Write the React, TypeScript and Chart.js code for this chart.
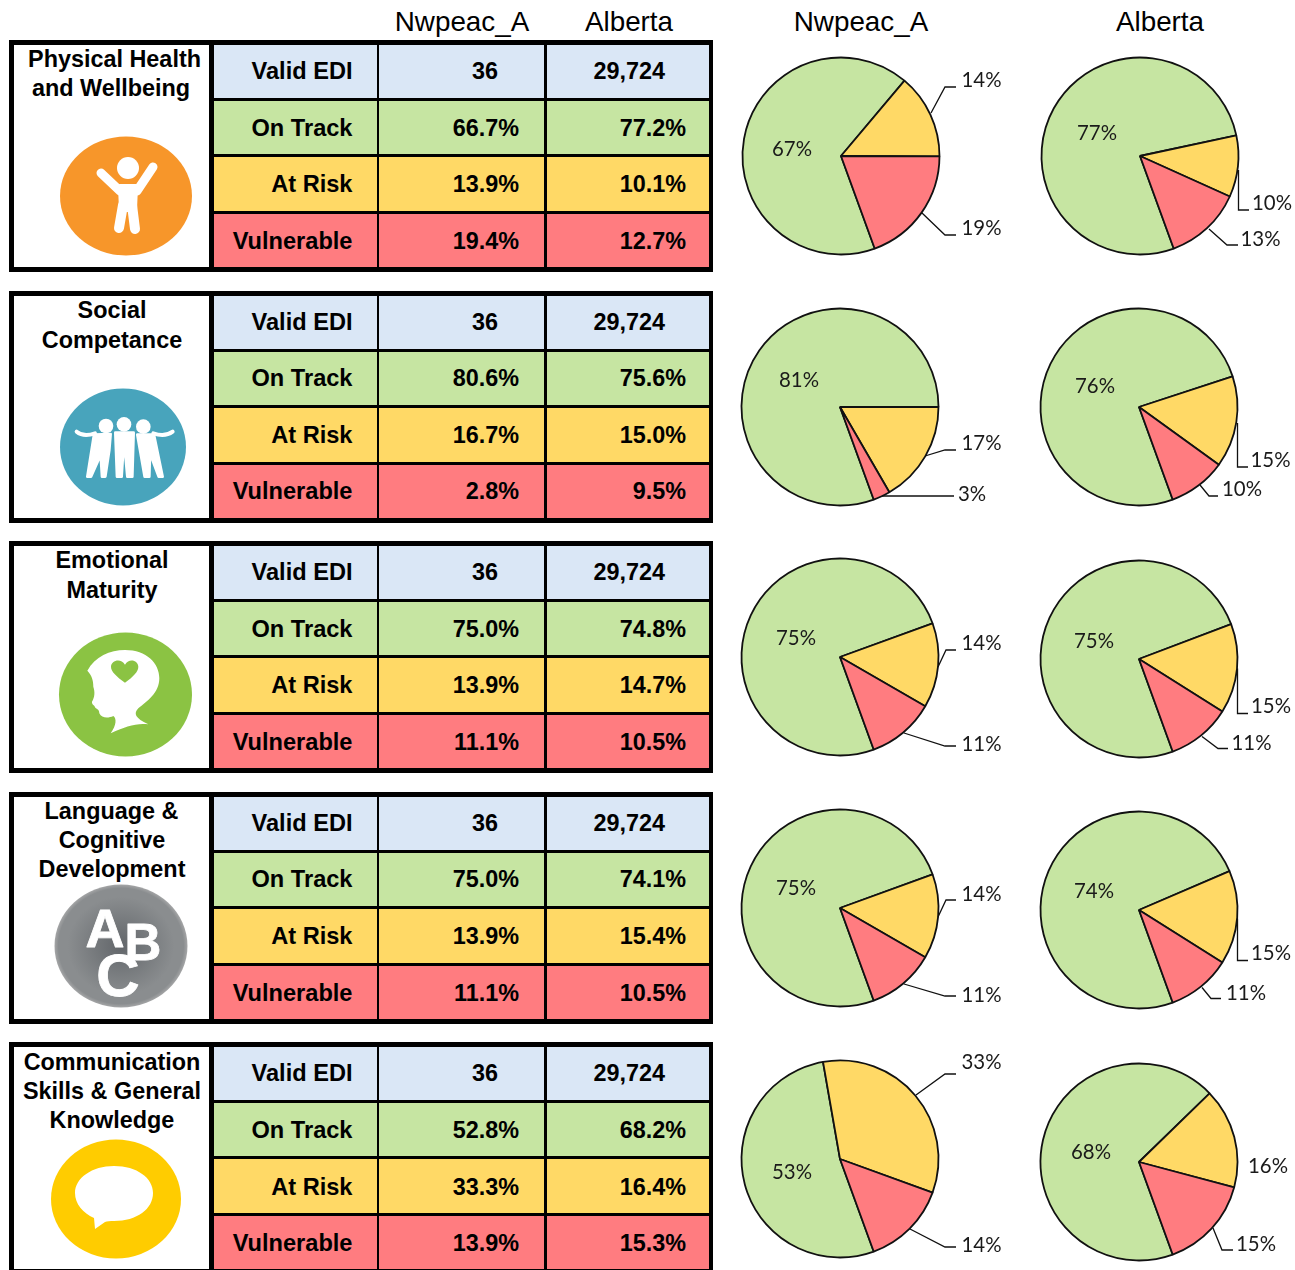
import React, { useEffect, useRef } from "react";
import { Chart, registerables } from "chart.js";

Chart.register(...registerables);

const domains = [
  ["Physical Health", "and Wellbeing"],
  ["Social", "Competance"],
  ["Emotional", "Maturity"],
  ["Language &", "Cognitive", "Development"],
  ["Communication", "Skills & General", "Knowledge"],
];
const indicators = ["Valid EDI", "On Track", "At Risk", "Vulnerable"];
const regions = ["Nwpeac_A", "Alberta"];
const validCounts = ["36", "29,724"];
const nwpeacOnTrack = [66.7, 80.6, 75.0, 75.0, 52.8];
const nwpeacAtRisk = [13.9, 16.7, 13.9, 13.9, 33.3];
const nwpeacVulnerable = [19.4, 2.8, 11.1, 11.1, 13.9];
const albertaOnTrack = [77.2, 75.6, 74.8, 74.1, 68.2];
const albertaAtRisk = [10.1, 15.0, 14.7, 15.4, 16.4];
const albertaVulnerable = [12.7, 9.5, 10.5, 10.5, 15.3];

const GREEN = "#C6E5A2";
const YELLOW = "#FFD966";
const RED = "#FF7C80";
const BLUE = "#DAE7F6";
const rowFills = [BLUE, GREEN, YELLOW, RED];
const sliceFills = [GREEN, YELLOW, RED];

const blockTops = [40, 291, 541, 792, 1042];
const rowCentres = [
  [71, 128, 184, 241],
  [322, 378, 435, 491],
  [572, 629, 685, 742],
  [823, 879, 936, 993],
  [1073, 1130, 1187, 1243],
];
const titleCentres = [
  [59, 88],
  [310, 340],
  [560, 590],
  [811, 840, 869],
  [1062, 1091, 1120],
];
const titleXs = [
  [114.5, 111],
  [112, 112],
  [112, 112],
  [111.5, 112, 112],
  [112, 112, 112],
];

type Pt = [number, number];
type PieLayout = { cx: number; cy: number; labels: Pt[]; leaders: (Pt[] | null)[] };

const nwpeacLayouts: PieLayout[] = [
  { cx: 841, cy: 156, labels: [[792, 148], [961.5, 79.5], [961.5, 227.5]],
    leaders: [null, [[931, 113], [945, 87], [956, 87]], [[922, 213], [945, 235], [956, 235]]] },
  { cx: 840, cy: 407, labels: [[799, 379.5], [961.5, 442.5], [958, 493.5]],
    leaders: [null, [[925, 456], [945, 450], [956, 450]], [[882, 496], [954, 496]]] },
  { cx: 840, cy: 657, labels: [[796, 637.5], [961.5, 642.5], [961.5, 743.5]],
    leaders: [null, [[938, 667], [946, 650], [956, 650]], [[904, 733], [945, 746], [956, 746]]] },
  { cx: 840, cy: 908, labels: [[796, 887.5], [961.5, 893.5], [961.5, 994.5]],
    leaders: [null, [[938, 917], [946, 900], [956, 900]], [[904, 984], [945, 996], [956, 996]]] },
  { cx: 840, cy: 1159, labels: [[792, 1171.5], [961.5, 1061.5], [961.5, 1244.5]],
    leaders: [null, [[916, 1095], [945, 1074], [956, 1074]], [[910, 1229], [945, 1247], [956, 1247]]] },
];
const albertaLayouts: PieLayout[] = [
  { cx: 1140, cy: 156, labels: [[1097, 132.5], [1252, 202.5], [1240.5, 238.5]],
    leaders: [null, [[1238.5, 170], [1238.5, 210], [1249, 210]], [[1209, 229], [1227, 245], [1238, 245]]] },
  { cx: 1139, cy: 407, labels: [[1095, 385.5], [1250.5, 459.5], [1222, 488.5]],
    leaders: [null, [[1237.5, 423], [1237.5, 467], [1248, 467]], [[1200, 485], [1209, 496], [1218, 496]]] },
  { cx: 1139, cy: 658.5, labels: [[1094, 639.5], [1251, 704.5], [1231.5, 741.5]],
    leaders: [null, [[1237.5, 668], [1237.5, 713], [1248, 713]], [[1202, 736], [1218, 748], [1228, 748]]] },
  { cx: 1139, cy: 909.5, labels: [[1094, 889.5], [1251, 952], [1226, 991.5]],
    leaders: [null, [[1237.5, 918], [1237.5, 960], [1248, 960]], [[1202, 987], [1211, 998], [1221, 998]]] },
  { cx: 1139, cy: 1162, labels: [[1091, 1151.5], [1248, 1165.5], [1236, 1243.5]],
    leaders: [null, null, [[1213, 1228], [1222, 1250], [1233, 1250]]] },
];

const SIDE = 220;
const PIE_FONT = '20.4px Lato, "Open Sans", sans-serif';

function Pie({ values, layout, width }: { values: number[]; layout: PieLayout; width: number }) {
  const ref = useRef<HTMLCanvasElement>(null);
  useEffect(() => {
    const ox = layout.cx - SIDE / 2;
    const oy = layout.cy - SIDE / 2;
    const labelPlugin = {
      id: "pieLabels",
      afterDraw(chart: any) {
        const ctx = chart.ctx;
        ctx.save();
        ctx.strokeStyle = "#111";
        ctx.lineWidth = 1.3;
        ctx.fillStyle = "#1a1a1a";
        ctx.font = PIE_FONT;
        ctx.textBaseline = "middle";
        values.forEach((v, i) => {
          const leader = layout.leaders[i];
          if (leader) {
            ctx.beginPath();
            leader.forEach(([x, y], k) => {
              if (k === 0) ctx.moveTo(x - ox, y - oy);
              else ctx.lineTo(x - ox, y - oy);
            });
            ctx.stroke();
          }
          const [lx, ly] = layout.labels[i];
          ctx.textAlign = i === 0 ? "center" : "left";
          ctx.fillText(`${Math.round(v)}%`, lx - ox, ly - oy + 1);
        });
        ctx.restore();
      },
    };
    const chart = new Chart(ref.current!, {
      type: "pie",
      data: {
        labels: indicators.slice(1),
        datasets: [
          {
            data: values,
            backgroundColor: sliceFills,
            borderColor: "#111",
            borderWidth: 1.8,
          },
        ],
      },
      options: {
        animation: false,
        responsive: false,
        rotation: 160,
        radius: 98.5,
        layout: { padding: { right: width - SIDE } },
        plugins: { legend: { display: false }, tooltip: { enabled: false } },
      },
      plugins: [labelPlugin],
    } as any);
    return () => chart.destroy();
  }, [values, layout, width]);
  return (
    <canvas
      ref={ref}
      width={width}
      height={SIDE}
      style={{
        position: "absolute",
        left: layout.cx - SIDE / 2,
        top: layout.cy - SIDE / 2,
        width,
        height: SIDE,
      }}
    />
  );
}

const sans = '"Liberation Sans", Arial, sans-serif';

function Txt({ children, cy, left, right, centre, size, bold }: any) {
  const style: React.CSSProperties = {
    position: "absolute",
    top: cy - 20,
    height: 40,
    lineHeight: "40px",
    fontFamily: sans,
    fontSize: size,
    fontWeight: bold ? 700 : 400,
    color: "#000",
    whiteSpace: "nowrap",
  };
  if (right !== undefined) {
    style.left = right - 300;
    style.width = 300;
    style.textAlign = "right";
  } else if (centre !== undefined) {
    style.left = centre - 150;
    style.width = 300;
    style.textAlign = "center";
  } else {
    style.left = left;
  }
  return <div style={style}>{children}</div>;
}

function Box({ l, t, w, h, c }: { l: number; t: number; w: number; h: number; c: string }) {
  return <div style={{ position: "absolute", left: l, top: t, width: w, height: h, background: c }} />;
}

const colBoxes = [
  { l: 214, w: 163 },
  { l: 379, w: 165 },
  { l: 547, w: 162 },
];
const rowBoxes = [
  { t: 5, b: 58 },
  { t: 61, b: 114 },
  { t: 117, b: 171 },
  { t: 174, b: 227 },
];

function Block({ index }: { index: number }) {
  const top = blockTops[index];
  const centres = rowCentres[index];
  return (
    <>
      <Box l={9} t={top} w={704} h={232} c="#000" />
      <Box l={14} t={top + 5} w={195} h={222} c="#fff" />
      {rowBoxes.map((r, ri) =>
        colBoxes.map((c, j) => (
          <Box key={`${ri}-${j}`} l={c.l} t={top + r.t} w={c.w} h={r.b - r.t} c={rowFills[ri]} />
        ))
      )}
      {domains[index].map((line, i) => (
        <Txt key={i} cy={titleCentres[index][i]} centre={titleXs[index][i]} size={23.4} bold>
          {line}
        </Txt>
      ))}
      {indicators.map((name, r) => (
        <Txt key={name} cy={centres[r]} right={352.5} size={23.6} bold>
          {name}
        </Txt>
      ))}
      <Txt cy={centres[0]} right={498} size={23.4} bold>{validCounts[0]}</Txt>
      <Txt cy={centres[0]} right={665} size={23.4} bold>{validCounts[1]}</Txt>
      {[nwpeacOnTrack, nwpeacAtRisk, nwpeacVulnerable].map((s, r) => (
        <Txt key={r} cy={centres[r + 1]} right={519} size={23.4} bold>{s[index].toFixed(1)}%</Txt>
      ))}
      {[albertaOnTrack, albertaAtRisk, albertaVulnerable].map((s, r) => (
        <Txt key={r} cy={centres[r + 1]} right={686} size={23.4} bold>{s[index].toFixed(1)}%</Txt>
      ))}
    </>
  );
}

function Icons() {
  return (
    <svg
      width={220}
      height={1270}
      viewBox="0 0 220 1270"
      style={{ position: "absolute", left: 0, top: 0 }}
    >
      <defs>
        <radialGradient id="grey" cx="50%" cy="50%" r="50%">
          <stop offset="0%" stopColor="#62666A" />
          <stop offset="80%" stopColor="#8A8D8F" />
          <stop offset="94%" stopColor="#8A8D8F" />
          <stop offset="100%" stopColor="#A5A6A7" />
        </radialGradient>
      </defs>
      {/* physical */}
      <ellipse cx={126} cy={196} rx={66} ry={59.5} fill="#F7962A" />
      <g fill="#fff" stroke="#fff" strokeLinecap="round" strokeLinejoin="round">
        <ellipse cx={128} cy={168} rx={11} ry={11} stroke="none" />
        <path d="M101 173 L120 191 M153 167 L137 191" strokeWidth={9} fill="none" />
        <path d="M120 186 L136 186 L135 210 L121 210 Z" strokeWidth={4} />
        <path d="M123 205 L119 228 M132 205 L135 229" strokeWidth={10} fill="none" />
      </g>
      {/* social */}
      <ellipse cx={123} cy={447} rx={63} ry={58.5} fill="#48A4BC" />
      <g transform="translate(0,290) scale(0.3333)" fill="#fff" stroke="#fff" strokeLinecap="round" strokeLinejoin="round">
        <circle cx={318} cy={408} r={22} stroke="none" />
        <circle cx={372} cy={403} r={22} stroke="none" />
        <circle cx={430} cy={410} r={22} stroke="none" />
        <path d="M230 425 Q250 442 285 430 M518 425 Q495 442 460 430" strokeWidth={12} fill="none" />
        <path d="M282 434 L332 432 L328 480 L316 560 L306 560 L302 495 L273 560 L262 560 Z" strokeWidth={8} />
        <path d="M346 428 L401 428 L397 560 L382 560 L376 495 L369 495 L365 560 L351 560 Z" strokeWidth={8} />
        <path d="M412 434 L462 434 L488 560 L476 560 L450 490 L448 560 L434 560 L420 480 Z" strokeWidth={8} />
      </g>
      {/* emotional */}
      <ellipse cx={125.5} cy={694.5} rx={66.5} ry={62} fill="#8BC343" />
      <g transform="translate(0,290) scale(0.3333)">
        <path
          d="M262 1142 C285 1100 330 1080 375 1080 C440 1080 478 1120 478 1165 C478 1210 440 1235 415 1255 C400 1270 405 1285 445 1303 C410 1298 375 1310 332 1330 C350 1305 350 1285 340 1278 C325 1285 305 1285 298 1270 C298 1258 290 1258 285 1252 C285 1245 275 1245 276 1235 C285 1220 285 1205 280 1190 C280 1170 275 1155 262 1142 Z"
          fill="#fff"
        />
        <path
          d="M375 1178 C350 1160 333 1145 333 1130 C333 1112 362 1102 375 1124 C388 1102 415 1112 415 1130 C415 1145 400 1160 375 1178 Z"
          fill="#8BC343"
        />
      </g>
      {/* language */}
      <ellipse cx={121} cy={946} rx={66.5} ry={61.5} fill="url(#grey)" />
      <g
        fill="#fff"
        stroke="#fff"
        strokeWidth={0.8}
        strokeLinejoin="round"
        fontFamily={sans}
        fontWeight={700}
        fontSize={54}
        textAnchor="middle"
      >
        <text x={105} y={947}>A</text>
        <text x={143} y={960} fontSize={51}>B</text>
        <text x={118} y={996} fontSize={60}>C</text>
      </g>
      {/* communication */}
      <ellipse cx={116} cy={1199} rx={65} ry={59.5} fill="#FFCC00" />
      <path
        d="M114 1166 C137 1166 153 1178 153 1193 C153 1209 137 1221 114 1221 C110 1221 107 1221 105 1222 L95 1229 L94 1218 C83 1213 75 1204 75 1193 C75 1178 92 1166 114 1166 Z"
        fill="#fff"
      />
    </svg>
  );
}

export default function App() {
  return (
    <div
      style={{
        position: "absolute",
        left: 0,
        top: 0,
        width: 1295,
        height: 1270,
        overflow: "hidden",
        background: "#fff",
      }}
    >
      {blockTops.map((_, i) => (
        <Block key={i} index={i} />
      ))}
      <Icons />
      <Txt cy={22} centre={462} size={27.8}>{regions[0]}</Txt>
      <Txt cy={22} centre={629} size={27.8}>{regions[1]}</Txt>
      <Txt cy={22} centre={861} size={27.8}>{regions[0]}</Txt>
      <Txt cy={22} centre={1160} size={27.8}>{regions[1]}</Txt>
      {nwpeacLayouts.map((layout, i) => (
        <Pie
          key={`n${i}`}
          layout={layout}
          width={285}
          values={[nwpeacOnTrack[i], nwpeacAtRisk[i], nwpeacVulnerable[i]]}
        />
      ))}
      {albertaLayouts.map((layout, i) => (
        <Pie
          key={`a${i}`}
          layout={layout}
          width={Math.floor(1295 - (layout.cx - SIDE / 2))}
          values={[albertaOnTrack[i], albertaAtRisk[i], albertaVulnerable[i]]}
        />
      ))}
    </div>
  );
}
